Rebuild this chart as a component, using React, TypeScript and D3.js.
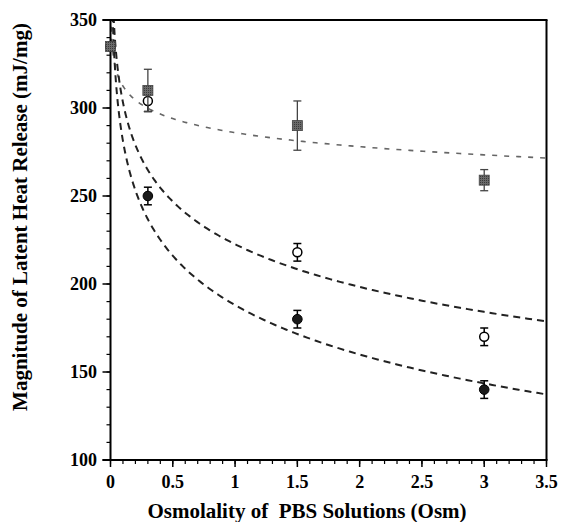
import React from "react";
import * as d3 from "d3";

const xValues = [0, 0.3, 1.5, 3];
const squareVals = [335, 310, 290, 259];
const squareErr = [0, 12, 14, 6];
const openVals = [335, 304, 218, 170];
const openErr = [0, 6, 5, 5];
const filledVals = [335, 250, 180, 140];
const filledErr = [0, 5, 5, 5];

// logarithmic fit curves: y = a - b ln(x)
const fitA = [286, 222.6, 188];
const fitB = [11.5, 35, 40.5];
const fitColor = ["#666", "#222", "#222"];
const fitWidth = [1.6, 2, 2];
const fitDash = ["5,7", "7,5", "7,5"];

const xTicks = [0, 0.5, 1, 1.5, 2, 2.5, 3, 3.5];
const yTicks = [100, 150, 200, 250, 300, 350];

const W = 561, H = 522;
const L = 110.5, R = 546.5, T = 20, B = 460;

export default function App() {
  const x = d3.scaleLinear().domain([0, 3.5]).range([L, R]);
  const y = d3.scaleLinear().domain([100, 350]).range([B, T]);
  const font = "'Liberation Serif', 'Times New Roman', serif";

  const xMinor = d3.range(0, 3.5001, 0.1).map((v) => +v.toFixed(2));
  const yMinor = d3.range(100, 351, 10);

  const samples = d3.range(0, 401).map((i) => 0.0005 * Math.pow(3.5 / 0.0005, i / 400));
  const line = d3
    .line<[number, number]>()
    .x((d) => x(d[0]))
    .y((d) => y(d[1]));

  return (
    <svg width={W} height={H} style={{ position: "absolute", left: 0, top: 0, background: "#fff" }}>
      <defs>
        <clipPath id="plot">
          <rect x={L} y={T} width={R - L} height={B - T} />
        </clipPath>
        <pattern id="stip" width="2" height="2" patternUnits="userSpaceOnUse">
          <rect width="2" height="2" fill="#6a6a6a" />
          <rect width="1" height="1" fill="#3a3a3a" />
        </pattern>
      </defs>
      {/* fitted curves */}
      <g clipPath="url(#plot)">
        {fitA.map((a, k) => (
          <path
            key={k}
            d={line(samples.map((s) => [s, a - fitB[k] * Math.log(s)] as [number, number])) || ""}
            fill="none"
            stroke={fitColor[k]}
            strokeWidth={fitWidth[k]}
            strokeDasharray={fitDash[k]}
          />
        ))}
      </g>
      {/* frame */}
      <line x1={R} y1={T} x2={R} y2={B} stroke="#000" strokeWidth={2} />
      <line x1={L - 8} y1={T} x2={R + 1} y2={T} stroke="#000" strokeWidth={2} />
      <line x1={L} y1={T} x2={L} y2={B + 1} stroke="#000" strokeWidth={2} />
      <line x1={L - 8} y1={B} x2={R + 1} y2={B} stroke="#000" strokeWidth={2} />
      {/* minor ticks */}
      {yMinor.map((v) => (
        <line key={"ym" + v} x1={L - 4} x2={L} y1={y(v)} y2={y(v)} stroke="#000" strokeWidth={1.2} />
      ))}
      {xMinor.map((v) => (
        <line key={"xm" + v} x1={x(v)} x2={x(v)} y1={B} y2={B + 4} stroke="#000" strokeWidth={1.2} />
      ))}
      {yTicks.map((v) => (
        <g key={"yt" + v}>
          <line x1={L - 8} x2={L} y1={y(v)} y2={y(v)} stroke="#000" strokeWidth={1.5} />
          <text x={97} y={y(v) + 6} textAnchor="end" fontFamily={font} fontWeight="bold" fontSize={18}>
            {v}
          </text>
        </g>
      ))}
      {xTicks.map((v) => (
        <g key={"xt" + v}>
          <line x1={x(v)} x2={x(v)} y1={B} y2={B + 7} stroke="#000" strokeWidth={1.5} />
          <text x={x(v)} y={488} textAnchor="middle" fontFamily={font} fontWeight="bold" fontSize={18}>
            {v}
          </text>
        </g>
      ))}
      {/* titles */}
      <text
        x={307}
        y={518}
        textAnchor="middle"
        fontFamily={font}
        fontWeight="bold"
        fontSize={21}
        style={{ whiteSpace: "pre" }}
      >
        {"Osmolality of  PBS Solutions (Osm)"}
      </text>
      <text
        transform={`translate(27,217) rotate(-90)`}
        textAnchor="middle"
        fontFamily={font}
        fontWeight="bold"
        fontSize={21}
      >
        Magnitude of Latent Heat Release (mJ/mg)
      </text>
      {/* filled circles */}
      {xValues.map((xv, i) => (
        <g key={"f" + i}>
          {filledErr[i] > 0 && (
            <g stroke="#000" strokeWidth={1.5}>
              <line x1={x(xv)} x2={x(xv)} y1={y(filledVals[i] + filledErr[i])} y2={y(filledVals[i] - filledErr[i])} />
              <line x1={x(xv) - 4} x2={x(xv) + 4} y1={y(filledVals[i] + filledErr[i])} y2={y(filledVals[i] + filledErr[i])} />
              <line x1={x(xv) - 4} x2={x(xv) + 4} y1={y(filledVals[i] - filledErr[i])} y2={y(filledVals[i] - filledErr[i])} />
            </g>
          )}
          <circle cx={x(xv)} cy={y(filledVals[i])} r={4.8} fill="#1a1a1a" stroke="#000" strokeWidth={1} />
        </g>
      ))}
      {/* open circles */}
      {xValues.map((xv, i) => (
        <g key={"o" + i}>
          {openErr[i] > 0 && (
            <g stroke="#000" strokeWidth={1.5}>
              <line x1={x(xv)} x2={x(xv)} y1={y(openVals[i] + openErr[i])} y2={y(openVals[i] - openErr[i])} />
              <line x1={x(xv) - 4} x2={x(xv) + 4} y1={y(openVals[i] + openErr[i])} y2={y(openVals[i] + openErr[i])} />
              <line x1={x(xv) - 4} x2={x(xv) + 4} y1={y(openVals[i] - openErr[i])} y2={y(openVals[i] - openErr[i])} />
            </g>
          )}
          <circle cx={x(xv)} cy={y(openVals[i])} r={4.5} fill="#fff" stroke="#000" strokeWidth={1.5} />
        </g>
      ))}
      {/* squares */}
      {xValues.map((xv, i) => (
        <g key={"s" + i}>
          {squareErr[i] > 0 && (
            <g stroke="#444" strokeWidth={1.3}>
              <line x1={x(xv)} x2={x(xv)} y1={y(squareVals[i] + squareErr[i])} y2={y(squareVals[i] - squareErr[i])} />
              <line x1={x(xv) - 4} x2={x(xv) + 4} y1={y(squareVals[i] + squareErr[i])} y2={y(squareVals[i] + squareErr[i])} />
              <line x1={x(xv) - 4} x2={x(xv) + 4} y1={y(squareVals[i] - squareErr[i])} y2={y(squareVals[i] - squareErr[i])} />
            </g>
          )}
          <rect x={x(xv) - 5} y={y(squareVals[i]) - 5} width={10} height={10} fill="url(#stip)" stroke="#444" strokeWidth={0.8} />
        </g>
      ))}
    </svg>
  );
}
